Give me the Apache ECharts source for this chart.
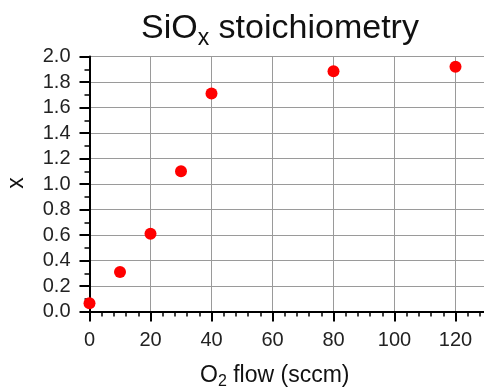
<!DOCTYPE html>
<html><head><meta charset="utf-8">
<script src="https://cdn.jsdelivr.net/npm/echarts@6/dist/echarts.min.js"></script>
<style>html,body{margin:0;padding:0;background:#fff}#c{width:484px;height:387px}</style>
</head><body><div id="c"></div>
<script>
const o2Flow = [0, 10, 20, 30, 40, 80, 120];
const stoichX = [0.064, 0.31, 0.61, 1.10, 1.71, 1.885, 1.92];
const xTicks = [0, 20, 40, 60, 80, 100, 120];
const yTicks = ['0.0', '0.2', '0.4', '0.6', '0.8', '1.0', '1.2', '1.4', '1.6', '1.8', '2.0'];

const FONT = 'Liberation Sans, Arial, sans-serif';
const chart = echarts.init(document.getElementById('c'));
chart.setOption({
  animation: false,
  backgroundColor: '#fff',
  title: {
    text: '{a|SiO}{b|x}{a| stoichiometry}',
    left: 136, top: 4,
    textStyle: {
      fontWeight: 'normal',
      rich: {
        a: {fontFamily: FONT, fontSize: 34, fontWeight: 'normal', color: '#111', lineHeight: 40},
        b: {fontFamily: FONT, fontSize: 23, fontWeight: 'normal', color: '#111', padding: [19, 0, 0, 0], lineHeight: 40}
      }
    }
  },
  grid: {left: 89.5, top: 56.5, right: -2, bottom: 75.5, containLabel: false, outerBoundsMode: 'none'},
  graphic: [{
    type: 'text', x: 17, y: 183, rotation: Math.PI / 2,
    style: {text: 'x', fontFamily: FONT, fontSize: 23, fill: '#111', align: 'center', verticalAlign: 'middle'}
  }],
  xAxis: {
    type: 'value', min: 0, max: 130, interval: 20,
    name: '{a|O}{b|2}{a| flow (sccm)}',
    nameLocation: 'middle', nameGap: 51,
    nameTextStyle: {
      padding: [0, 26, 0, 0],
      rich: {
        a: {fontFamily: FONT, fontSize: 23, color: '#111', lineHeight: 27},
        b: {fontFamily: FONT, fontSize: 16, color: '#111', padding: [12, 0, 0, 0], lineHeight: 27}
      }
    },
    axisLine: {show: true, onZero: false, lineStyle: {color: '#000', width: 2}},
    axisTick: {show: true, inside: false, length: 10, lineStyle: {color: '#000', width: 2}},
    minorTick: {show: true, splitNumber: 5, length: 5, lineStyle: {color: '#000', width: 1.5}},
    axisLabel: {
      fontFamily: FONT, fontSize: 20, color: '#222', margin: 19,
      formatter: v => { const r = Math.round(Number(v)); return xTicks.includes(r) && Math.abs(r - v) < 1e-6 ? String(r) : ''; }
    },
    splitLine: {show: true, lineStyle: {color: '#9a9a9a', width: 1}}
  },
  yAxis: {
    type: 'value', min: 0, max: 2, interval: 0.2,
    axisLine: {show: true, onZero: false, lineStyle: {color: '#000', width: 2}},
    axisTick: {show: true, inside: false, length: 10, lineStyle: {color: '#000', width: 2}},
    minorTick: {show: true, splitNumber: 2, length: 5, lineStyle: {color: '#000', width: 1.5}},
    axisLabel: {
      fontFamily: FONT, fontSize: 20, color: '#222', margin: 19,
      rich: {n: {fontFamily: FONT, fontSize: 20, color: '#222'}},
      formatter: v => { const s = (Math.round(Number(v) * 10) / 10).toFixed(1); return yTicks.includes(s) ? '{n|' + s + '}' : ''; }
    },
    splitLine: {show: true, lineStyle: {color: '#9a9a9a', width: 1}}
  },
  series: [{
    type: 'scatter',
    data: o2Flow.map((x, i) => [x, stoichX[i]]),
    symbol: 'circle', symbolSize: 12,
    itemStyle: {color: '#ff0000', opacity: 1},
    clip: false
  }]
});
</script></body></html>
